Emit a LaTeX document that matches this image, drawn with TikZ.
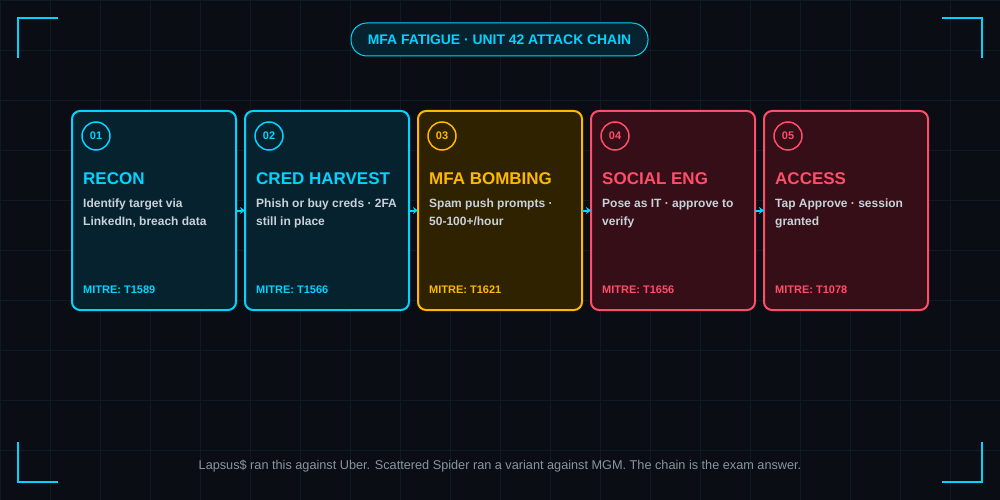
\documentclass[tikz,border=0pt]{standalone}
\usepackage{fontspec}
\setmainfont{Liberation Sans}
\usetikzlibrary{positioning,arrows.meta}

\definecolor{bgdark}{HTML}{0A0E14}
\definecolor{gridline}{HTML}{0C1C22}
\definecolor{cyanline}{HTML}{00D4FF}
\definecolor{cyanfill}{HTML}{06222F}
\definecolor{amberline}{HTML}{FFB800}
\definecolor{amberfill}{HTML}{2F2200}
\definecolor{redline}{HTML}{FF4D6A}
\definecolor{redfill}{HTML}{350E17}
\definecolor{desctext}{HTML}{C9D1D9}
\definecolor{foottext}{HTML}{8B949E}

\begin{document}
\begin{tikzpicture}[x=1pt,y=-1pt,
	card/.style={rectangle, rounded corners=8pt, line width=2pt,
	minimum width=164pt, minimum height=199pt, inner sep=0pt},
	numring/.style={circle, line width=1.5pt, minimum size=28pt, inner sep=0pt,
	font=\fontsize{11}{13}\selectfont\bfseries},
	headtext/.style={anchor=base west, inner sep=0pt,
	font=\fontsize{17}{20}\selectfont\bfseries},
	desc/.style={anchor=north west, inner sep=0pt, align=left, text=desctext,
	font=\fontsize{12}{18}\selectfont\bfseries},
	mitre/.style={anchor=base west, inner sep=0pt,
	font=\fontsize{11}{13}\selectfont\bfseries},
	link/.style={cyanline, line width=2pt, shorten <=-1pt, shorten >=-1pt,
	-{Stealth[length=5pt,width=7pt]}},
	bracket/.style={cyanline, line width=2pt}
	]
	% background and grid
	\fill[bgdark] (0,0) rectangle (1000,500);
	\useasboundingbox (0,0) rectangle (1000,500);
	\draw[gridline, line width=0.8pt] (0,0) grid[step=50pt] (1000,500);
	
	% corner brackets
	\draw[bracket] (18,58) -- (18,18) -- (58,18);
	\draw[bracket] (942,18) -- (982,18) -- (982,58);
	\draw[bracket] (18,442) -- (18,482) -- (58,482);
	\draw[bracket] (942,482) -- (982,482) -- (982,442);
	
	% title
	\node[rounded corners=16pt, fill=cyanfill, draw=cyanline, line width=1pt,
	minimum width=297pt, minimum height=33pt, text=cyanline,
	font=\fontsize{13.9}{16}\selectfont\bfseries] (title) at (499.5,39.5)
	{MFA FATIGUE · UNIT 42 ATTACK CHAIN};
	
	% cards
	\node[card, fill=cyanfill, draw=cyanline] (recon) at (154,210.5) {};
	\node[card, fill=cyanfill, draw=cyanline] (harvest) [right=7pt of recon] {};
	\node[card, fill=amberfill, draw=amberline] (bombing) [right=7pt of harvest] {};
	\node[card, fill=redfill, draw=redline] (social) [right=7pt of bombing] {};
	\node[card, fill=redfill, draw=redline] (access) [right=7pt of social] {};
	
	% step 01
	\node[numring, draw=cyanline, text=cyanline] (n1) at ([xshift=25pt,yshift=-26pt]recon.north west) {01};
	\node[headtext, text=cyanline] (h1) at ([xshift=12pt,yshift=-74pt]recon.north west) {RECON};
	\node[desc] (d1) at ([xshift=12pt,yshift=-89pt]recon.north west) {Identify target via\\LinkedIn, breach data};
	\node[mitre, text=cyanline] (m1) at ([xshift=12pt,yshift=-183pt]recon.north west) {MITRE: T1589};
	
	% step 02
	\node[numring, draw=cyanline, text=cyanline] (n2) at ([xshift=25pt,yshift=-26pt]harvest.north west) {02};
	\node[headtext, text=cyanline] (h2) at ([xshift=12pt,yshift=-74pt]harvest.north west) {CRED HARVEST};
	\node[desc] (d2) at ([xshift=12pt,yshift=-89pt]harvest.north west) {Phish or buy creds · 2FA\\still in place};
	\node[mitre, text=cyanline] (m2) at ([xshift=12pt,yshift=-183pt]harvest.north west) {MITRE: T1566};
	
	% step 03
	\node[numring, draw=amberline, text=amberline] (n3) at ([xshift=25pt,yshift=-26pt]bombing.north west) {03};
	\node[headtext, text=amberline] (h3) at ([xshift=12pt,yshift=-74pt]bombing.north west) {MFA BOMBING};
	\node[desc] (d3) at ([xshift=12pt,yshift=-89pt]bombing.north west) {Spam push prompts ·\\50-100+/hour};
	\node[mitre, text=amberline] (m3) at ([xshift=12pt,yshift=-183pt]bombing.north west) {MITRE: T1621};
	
	% step 04
	\node[numring, draw=redline, text=redline] (n4) at ([xshift=25pt,yshift=-26pt]social.north west) {04};
	\node[headtext, text=redline] (h4) at ([xshift=12pt,yshift=-74pt]social.north west) {SOCIAL ENG};
	\node[desc] (d4) at ([xshift=12pt,yshift=-89pt]social.north west) {Pose as IT · approve to\\verify};
	\node[mitre, text=redline] (m4) at ([xshift=12pt,yshift=-183pt]social.north west) {MITRE: T1656};
	
	% step 05
	\node[numring, draw=redline, text=redline] (n5) at ([xshift=25pt,yshift=-26pt]access.north west) {05};
	\node[headtext, text=redline] (h5) at ([xshift=12pt,yshift=-74pt]access.north west) {ACCESS};
	\node[desc] (d5) at ([xshift=12pt,yshift=-89pt]access.north west) {Tap Approve · session\\granted};
	\node[mitre, text=redline] (m5) at ([xshift=12pt,yshift=-183pt]access.north west) {MITRE: T1078};
	
	% links
	\draw[link] (recon.east) to (harvest.west);
	\draw[link] (harvest.east) to (bombing.west);
	\draw[link] (bombing.east) to (social.west);
	\draw[link] (social.east) to (access.west);
	
	% footer
	\node[text=foottext, font=\fontsize{12.7}{15}\selectfont] (foot) at (500,466)
	{Lapsus\$ ran this against Uber. Scattered Spider ran a variant against MGM. The chain is the exam answer.};
\end{tikzpicture}
\end{document}
